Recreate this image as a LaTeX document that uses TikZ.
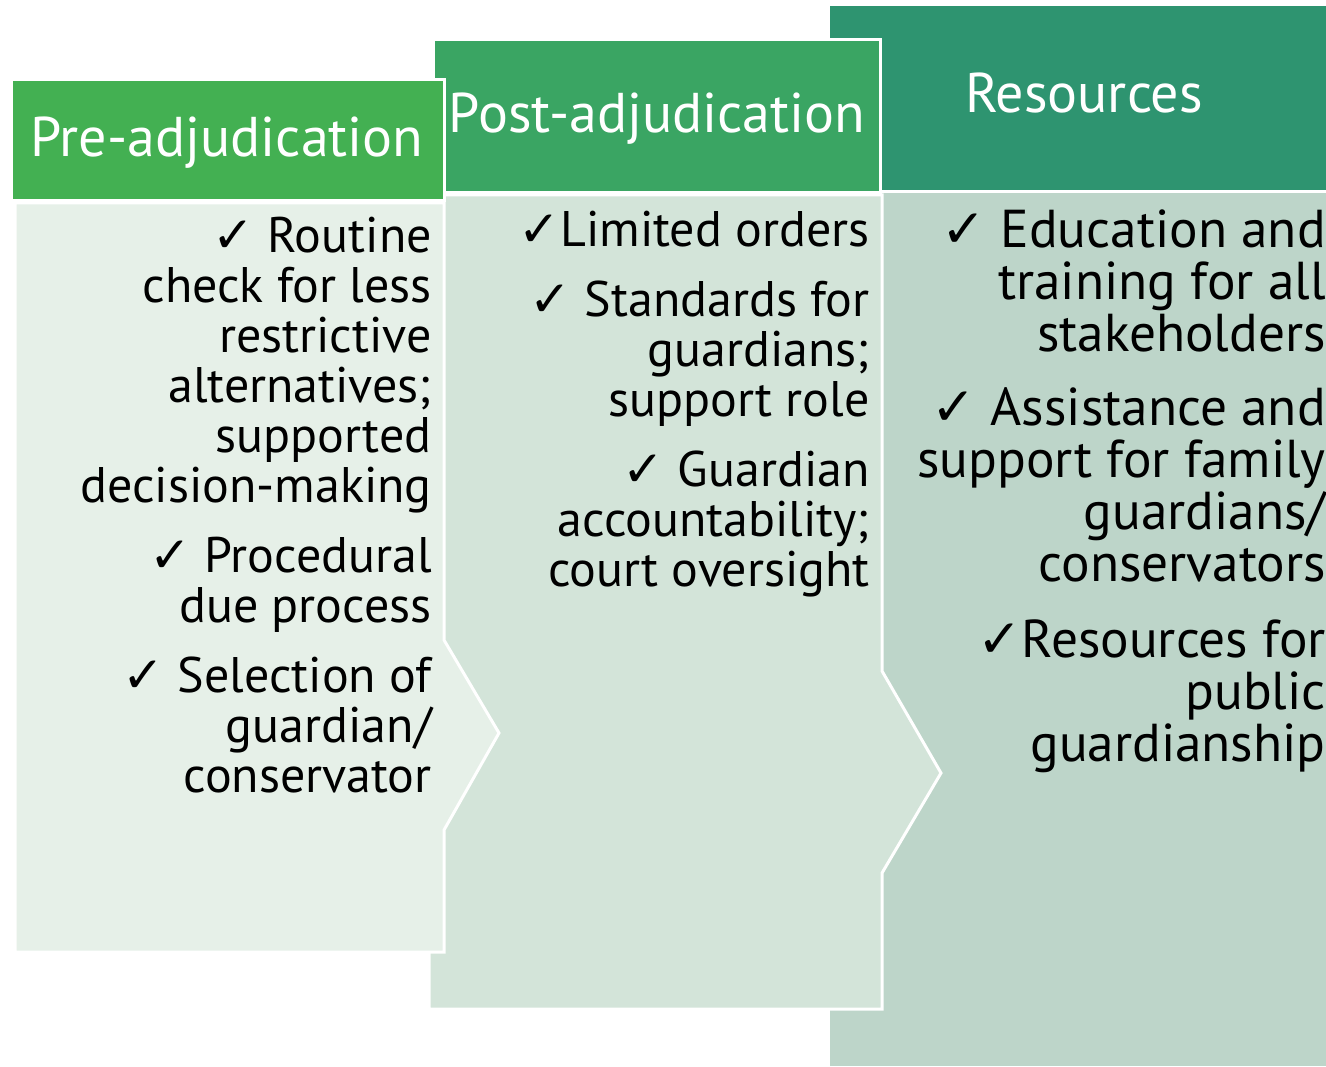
\documentclass[tikz,border=0pt]{standalone}
\usepackage{fontspec}
\setmainfont{PT Sans}
\newfontfamily\symfont{DejaVu Sans}
\newcommand\ck{{\symfont ✓}}
\definecolor{chA}{HTML}{43B052}
\definecolor{chB}{HTML}{3AA563}
\definecolor{chC}{HTML}{2E9470}
\definecolor{cbA}{HTML}{E6F0E8}
\definecolor{cbB}{HTML}{D3E4D9}
\definecolor{cbC}{HTML}{BDD5C9}
\begin{document}
\begin{tikzpicture}[x=0.75pt,y=-0.75pt,
  hdr/.style={font=\fontsize{42}{48}\selectfont, text=white, inner sep=0, anchor=base},
  itm/.style={font=\fontsize{37.5}{37.5}\selectfont, align=right, anchor=base east, inner sep=0},
  itmc/.style={itm, font=\fontsize{40}{39}\selectfont},
  wline/.style={draw=white, line width=2.25pt, line join=miter}
]
\useasboundingbox (0,0) rectangle (1326,1066);
% column 3 (back)
\path[fill=chC] (830,6) rectangle (1326,190);
\path[fill=cbC] (830,193) rectangle (1326,1066);
% column 2
\path[fill=cbB, wline] (429,195) -- (882,195) -- (882,671) -- (941,773) -- (882,873) -- (882,1009) -- (429,1009) -- cycle;
\path[fill=chB, wline] (433,40) rectangle (880,193);
% column 1 (front)
\path[fill=cbA, wline] (15,203) -- (444,203) -- (444,640) -- (499,733) -- (444,830) -- (444,952) -- (15,952) -- cycle;
\path[fill=chA, wline] (11,80) rectangle (444,201);
% headers
\node[hdr] (h1) at (227,157) {Pre-adjudication};
\node[hdr] (h2) at (657,133) {Post-adjudication};
\node[hdr] (h3) at (1084,113) {Resources};
% column 1 items (anchor = baseline of last line)
\node[itm] (a1) at (432,502) {\ck{} Routine\\check for less\\restrictive\\alternatives;\\supported\\decision-making};
\node[itm] (a2) at (432,622) {\ck{} Procedural\\due process};
\node[itm] (a3) at (432,792) {\ck{} Selection of\\guardian/\\conservator};
% column 2 items
\node[itm] (b1) at (870,246) {\ck{}Limited orders};
\node[itm] (b2) at (870,416) {\ck{} Standards for\\guardians;\\support role};
\node[itm] (b3) at (870,586) {\ck{} Guardian\\accountability;\\court oversight};
% column 3 items
\node[itmc] (c1) at (1326,351) {\ck{} Education and\\training for all\\stakeholders};
\node[itmc] (c2) at (1326,581) {\ck{} Assistance and\\support for family\\guardians/\\conservators};
\node[itmc] (c3) at (1326,761) {\ck{}Resources for\\public\\guardianship};
\end{tikzpicture}
\end{document}
